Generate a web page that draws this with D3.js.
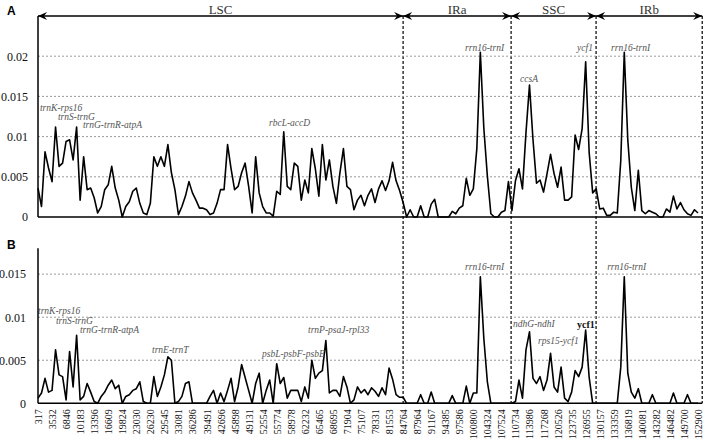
<!DOCTYPE html>
<html><head><meta charset="utf-8">
<script src="https://cdn.jsdelivr.net/npm/d3@7"></script>
<style>body{margin:0;background:#fff}svg{display:block}</style>
</head><body>
<svg id="c" width="708" height="445"></svg>
<script>
// ---- data ----
const tickLabels = [317,3532,6846,10183,13396,16609,19824,23030,26230,29545,33081,36286,39491,42696,45898,49131,52554,55774,58978,62232,65465,68695,71904,75107,78331,81553,84764,87964,91167,94385,97586,100800,104324,107524,110734,113986,117268,120526,123735,126955,130157,133359,136819,140081,143282,146482,149700,152900];
const regionNames = ["LSC","IRa","SSC","IRb"];
const regionBounds = [317, 84764, 109740, 129330, 153860];
const stepsPerLabel = 4;
const yTicksA = [0, 0.005, 0.01, 0.015, 0.02];
const yTicksB = [0, 0.005, 0.01, 0.015];

const piA = [
0.0036,0.0013,0.0081,0.0061,0.0044,0.0112,0.0063,0.0067,0.0094,0.0096,
0.0071,0.0112,0.0021,0.0075,0.0034,0.0036,0.0024,0.0005,0.0013,0.0034,
0.0040,0.0063,0.0036,0.0021,0.0000,0.0013,0.0019,0.0032,0.0036,0.0017,
0.0005,0.0003,0.0017,0.0075,0.0063,0.0075,0.0063,0.0090,0.0055,0.0034,
0.0003,0.0013,0.0026,0.0044,0.0030,0.0021,0.0011,0.0011,0.0009,0.0003,
0.0005,0.0017,0.0034,0.0034,0.0090,0.0060,0.0034,0.0038,0.0055,0.0067,
0.0038,0.0005,0.0075,0.0030,0.0013,0.0005,0.0005,0.0001,0.0032,0.0028,
0.0106,0.0038,0.0034,0.0067,0.0063,0.0021,0.0046,0.0030,0.0085,0.0060,
0.0026,0.0090,0.0046,0.0071,0.0038,0.0017,0.0055,0.0085,0.0038,0.0034,
0.0009,0.0021,
0.0027,0.0014,0.0027,0.0035,0.0018,0.0035,0.0045,0.0033,0.0045,0.0068,
0.0045,0.0033,0.0018,0.0000,0.0009,0.0000,0.0000,0.0014,0.0000,0.0000,
0.0016,0.0022,0.0000,0.0000,0.0000,0.0000,0.0007,0.0004,0.0011,0.0014,
0.0048,0.0027,0.0035,0.0085,0.0205,0.0110,0.0051,0.0004,0.0000,0.0000,
0.0006,0.0008,0.0044,0.0008,0.0045,0.0060,0.0035,0.0105,0.0164,0.0096,
0.0042,0.0046,0.0031,0.0054,0.0078,0.0054,0.0037,0.0062,0.0021,0.0021,
0.0025,0.0102,0.0084,0.0110,0.0193,0.0080,0.0030,0.0035,0.0010,0.0011,
0.0002,0.0002,0.0006,0.0005,0.0070,0.0205,0.0096,0.0037,0.0008,0.0058,
0.0008,0.0004,0.0008,0.0006,0.0004,0.0000,0.0000,0.0010,0.0006,0.0026,
0.0010,0.0018,0.0009,0.0004,0.0002,0.0009,0.0005];

const piB = [
0.0006,0.0012,0.0029,0.0013,0.0015,0.0062,0.0033,0.0031,0.0004,0.0060,
0.0019,0.0079,0.0004,0.0008,0.0023,0.0013,0.0002,0.0000,0.0008,0.0013,
0.0021,0.0027,0.0017,0.0021,0.0000,0.0008,0.0010,0.0015,0.0017,0.0025,
0.0002,0.0000,0.0000,0.0031,0.0008,0.0019,0.0033,0.0054,0.0050,0.0000,
0.0002,0.0008,0.0023,0.0025,0.0000,0.0000,0.0000,0.0000,0.0000,0.0008,
0.0015,0.0000,0.0012,0.0002,0.0015,0.0029,0.0002,0.0019,0.0045,0.0030,
0.0015,0.0000,0.0023,0.0035,0.0000,0.0015,0.0027,0.0000,0.0046,0.0023,
0.0030,0.0006,0.0015,0.0015,0.0015,0.0002,0.0019,0.0006,0.0050,0.0029,
0.0035,0.0038,0.0073,0.0012,0.0015,0.0015,0.0008,0.0031,0.0019,0.0000,
0.0004,0.0019,
0.0012,0.0016,0.0010,0.0018,0.0014,0.0008,0.0018,0.0010,0.0041,0.0028,
0.0010,0.0007,0.0007,0.0000,0.0000,0.0000,0.0000,0.0010,0.0000,0.0000,
0.0013,0.0000,0.0000,0.0000,0.0000,0.0000,0.0009,0.0000,0.0000,0.0000,
0.0020,0.0000,0.0012,0.0012,0.0147,0.0075,0.0025,0.0000,0.0000,0.0000,
0.0000,0.0000,0.0000,0.0000,0.0002,0.0027,0.0006,0.0062,0.0083,0.0029,
0.0023,0.0031,0.0015,0.0027,0.0058,0.0019,0.0013,0.0042,0.0006,0.0002,
0.0013,0.0038,0.0031,0.0042,0.0085,0.0030,0.0000,0.0000,0.0000,0.0000,
0.0000,0.0000,0.0000,0.0000,0.0042,0.0147,0.0035,0.0013,0.0006,0.0017,
0.0000,0.0000,0.0000,0.0010,0.0000,0.0000,0.0000,0.0000,0.0000,0.0012,
0.0000,0.0000,0.0000,0.0010,0.0000,0.0000,0.0000];

// annotations: label, category position, value level
const annotA = [
 ["trnK-rps16",0.14,0.01317],["trnS-trnG",1.42,0.01205],["trnG-trnR-atpA",3.2,0.01106],
 ["rbcL-accD",16.45,0.0113],["rrn16-trnI",30.41,0.0207],["ccsA",34.33,0.0168],
 ["ycf1",38.39,0.0207],["rrn16-trnI",40.81,0.0207]];
const annotB = [
 ["trnK-rps16",0.0,0.01036],["trnS-trnG",1.28,0.0092],["trnG-trnR-atpA",2.99,0.00819],
 ["trnE-trnT",8.12,0.00584],["psbL-psbF-psbE",15.95,0.0054],["trnP-psaJ-rpl33",19.23,0.00819],
 ["rrn16-trnI",30.41,0.01546],["ndhG-ndhI",33.83,0.00889],["rps15-ycf1",35.61,0.00688],
 ["rrn16-trnI",40.53,0.01546]];
const boldAnnotB = [["ycf1",38.39,0.00877]];

// ---- drawing ----
const svg = d3.select("#c");
const SERIF = '"Liberation Serif"';
const SANS = '"Liberation Sans"';
const x = d3.scaleLinear().domain([0, tickLabels.length-1]).range([38, 698]);
const bpToIdx = d3.scaleLinear().domain(tickLabels).range(d3.range(tickLabels.length));
const bx = bp => x(bpToIdx(bp));
const xEnd = bx(regionBounds[regionBounds.length-1]);
const yA = d3.scaleLinear().domain([0, 0.025]).range([217, 16]);
const yB = d3.scaleLinear().domain([0, 0.018]).range([403.3, 248.3]);

function panel(y, ticks, data, annots, pad) {
  svg.append("g").selectAll("line").data(ticks.filter(t=>t>0)).join("line")
    .attr("x1", x(0)).attr("x2", xEnd).attr("y1", d=>y(d)).attr("y2", d=>y(d))
    .attr("stroke","#9a9a9a").attr("stroke-width",1).attr("stroke-dasharray","2,2");
  const ax = svg.append("g").attr("transform",`translate(${x(0)},0)`)
    .call(d3.axisLeft(y).tickValues(ticks).tickSize(0).tickPadding(pad).tickFormat(d=>d===0?"0":String(d)));
  ax.select(".domain").remove();
  ax.selectAll("text").style("font-family",SERIF).style("font-size","12px").attr("fill","#111");
  const line = d3.line().x((d,i)=>x(i/stepsPerLabel)).y(d=>y(d));
  svg.append("path").datum(data).attr("d",line).attr("fill","none")
    .attr("stroke","#000").attr("stroke-width",1.6).attr("stroke-linejoin","round");
  svg.append("g").selectAll("text").data(annots).join("text")
    .attr("x", d=>x(d[1])).attr("y", d=>y(d[2])).text(d=>d[0])
    .style("font-family",SERIF).style("font-style","italic").style("font-size","9.5px").attr("fill","#555");
}

svg.append("g").selectAll("line").data(regionBounds.slice(1)).join("line")
  .attr("x1",d=>bx(d)).attr("x2",d=>bx(d)).attr("y1",yA(0.025)).attr("y2",yB(0))
  .attr("stroke","#000").attr("stroke-width",1.2).attr("stroke-dasharray","3,2");

panel(yA, yTicksA, piA, annotA, 10);
panel(yB, yTicksB, piB, annotB, 12);

svg.append("g").selectAll("text").data(boldAnnotB).join("text")
  .attr("x", d=>x(d[1])).attr("y", d=>yB(d[2])).text(d=>d[0])
  .style("font-family",SERIF).style("font-weight","bold").style("font-size","10px").attr("fill","#111");

const axisLines = [
  [x(0), yA(0.025), x(0), yA(0)], [x(0), yA(0), xEnd, yA(0)],
  [x(0), yB(0.018), x(0), yB(0)], [x(0), yB(0), xEnd, yB(0)],
  [x(0), yA(0.025), xEnd, yA(0.025)]];
svg.append("g").selectAll("line").data(axisLines).join("line")
  .attr("x1",d=>d[0]).attr("y1",d=>d[1]).attr("x2",d=>d[2]).attr("y2",d=>d[3])
  .attr("stroke","#000").attr("stroke-width",1.5);

const ay = yA(0.025);
const heads = [];
regionBounds.slice(0,-1).forEach((b,i)=>{
  heads.push([bx(b), -1]);
  heads.push([bx(regionBounds[i+1]), 1]);
});
svg.append("g").selectAll("path").data(heads).join("path")
  .attr("d", d=>{const t=d[0], s=d[1]; return `M${t},${ay} L${t-s*9},${ay-4} L${t-s*6},${ay} L${t-s*9},${ay+4} Z`;})
  .attr("fill","#000");

svg.append("g").selectAll("text").data(regionNames).join("text")
  .attr("x",(d,i)=>(bx(regionBounds[i])+bx(regionBounds[i+1]))/2).attr("y",ay-2.5)
  .attr("text-anchor","middle").text(d=>d)
  .style("font-family",SERIF).style("font-size","13px").attr("fill","#333");

const xa = svg.append("g").attr("transform",`translate(0,${yB(0)})`)
  .call(d3.axisBottom(x).tickValues(d3.range(tickLabels.length)).tickSize(0).tickFormat(i=>tickLabels[i]));
xa.select(".domain").remove();
xa.selectAll("text").attr("transform","rotate(-90)").attr("x",-6).attr("y",0).attr("dy","0.35em")
  .attr("text-anchor","end").style("font-family",SERIF).style("font-size","10px").attr("fill","#111");

svg.append("g").selectAll("text").data(["A","B"]).join("text")
  .attr("x",7).attr("y",(d,i)=>i===0?15:249).text(d=>d)
  .style("font-family",SANS).style("font-weight","bold").style("font-size","12px");
</script>
</body></html>
